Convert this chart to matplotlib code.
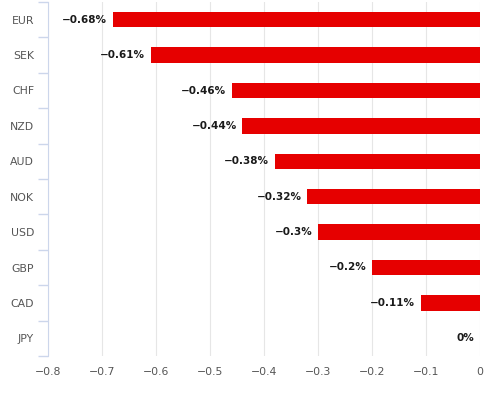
import matplotlib.pyplot as plt
import numpy as np

# currencies, top to bottom
currencies = ['EUR', 'SEK', 'CHF', 'NZD', 'AUD', 'NOK', 'USD', 'GBP', 'CAD', 'JPY']
changes = [-0.68, -0.61, -0.46, -0.44, -0.38, -0.32, -0.3, -0.2, -0.11, 0]
value_labels = ['\u22120.68%', '\u22120.61%', '\u22120.46%', '\u22120.44%', '\u22120.38%',
                '\u22120.32%', '\u22120.3%', '\u22120.2%', '\u22120.11%', '0%']
x_ticks = [-0.8, -0.7, -0.6, -0.5, -0.4, -0.3, -0.2, -0.1, 0]

fig = plt.figure(figsize=(4.98, 3.94), dpi=100)
ax = fig.add_axes([48 / 498, 38 / 394, 432 / 498, 354 / 394])

y = np.arange(len(currencies))
ax.barh(y, changes, height=0.43, color='#e60000', zorder=3)

for yi, v, lab in zip(y, changes, value_labels):
    ax.annotate(lab, xy=(v, yi), xytext=(-4, 0), textcoords='offset points',
                ha='right', va='center', fontsize=7.5, fontweight='bold',
                color='#1a1a1a')

ax.set_ylim(len(currencies) - 0.5, -0.5)
ax.set_xlim(-0.8, 0)
ax.set_yticks(y)
ax.set_yticklabels(currencies)
ax.set_yticks(np.arange(-0.5, len(currencies), 1), minor=True)
ax.tick_params(axis='y', which='major', length=0, pad=10, labelsize=7.8, labelcolor='#555555')
ax.tick_params(axis='y', which='minor', length=7, color='#ccd6eb', width=1)

ax.set_xticks(x_ticks)
ax.set_xticklabels(['\u22120.8', '\u22120.7', '\u22120.6', '\u22120.5', '\u22120.4',
                    '\u22120.3', '\u22120.2', '\u22120.1', '0'])
ax.tick_params(axis='x', length=0, pad=8, labelsize=7.8, labelcolor='#555555')
ax.grid(axis='x', color='#e6e6e6', linewidth=0.8, zorder=0)

for side in ['top', 'right', 'bottom']:
    ax.spines[side].set_visible(False)
ax.spines['left'].set_color('#ccd6eb')

fig.savefig('out.png', dpi=100)
